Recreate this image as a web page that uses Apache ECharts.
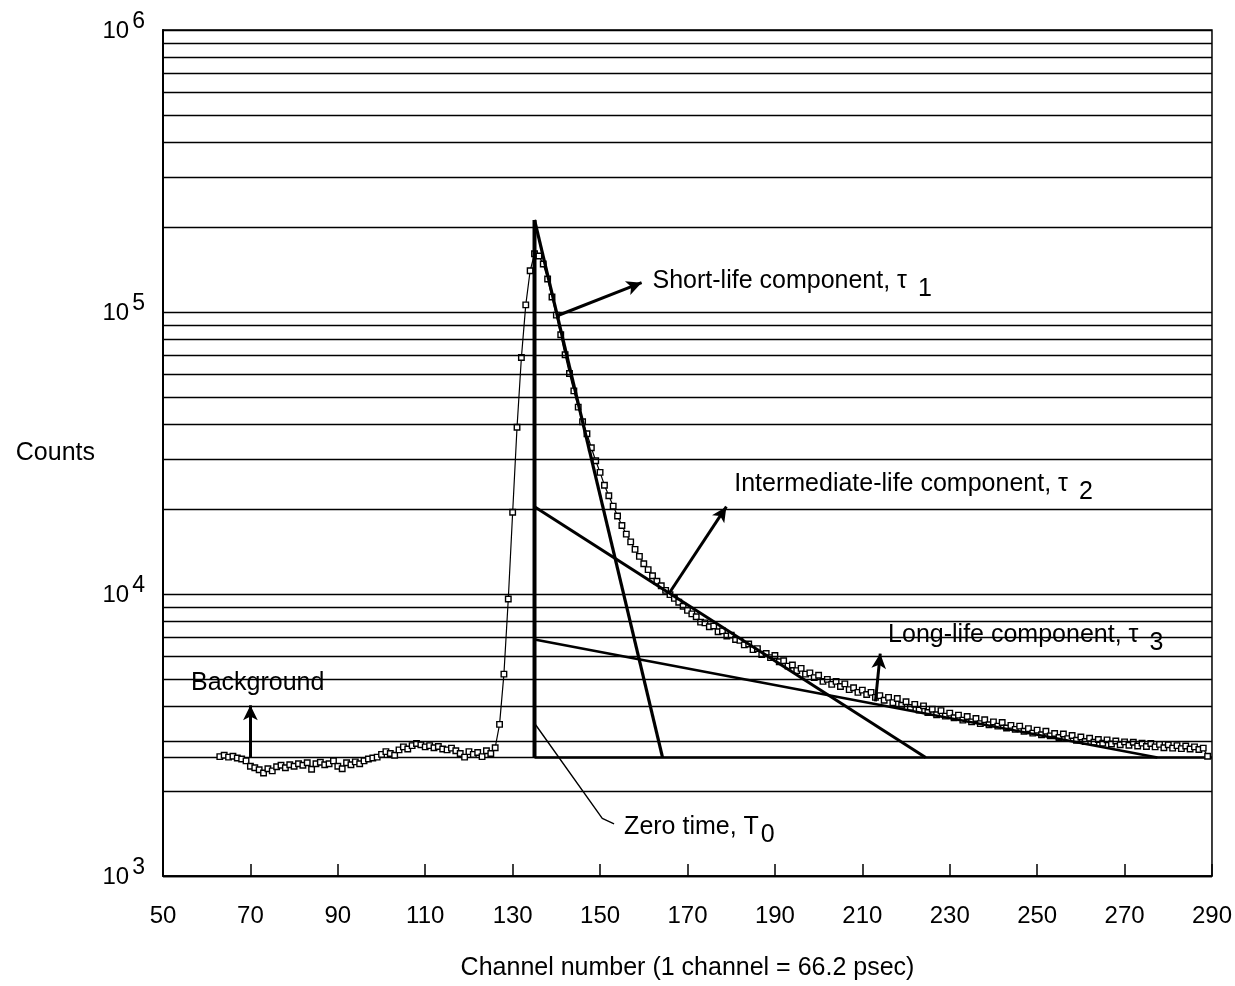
<!DOCTYPE html>
<html><head><meta charset="utf-8">
<script src="https://cdn.jsdelivr.net/npm/echarts@6/dist/echarts.min.js"></script>
<style>html,body{margin:0;padding:0;background:#fff}#c{width:1235px;height:986px}</style>
</head><body><div id="c"></div>
<script>
// ---- data ----
const firstChannel = 63;
const counts = [
 2650,2680,2640,2660,2620,2600,2560,2450,2420,2380,
 2320,2400,2360,2440,2470,2420,2480,2450,2500,2470,
 2520,2390,2500,2530,2480,2500,2560,2450,2400,2520,
 2480,2540,2500,2560,2600,2620,2640,2700,2760,2720,
 2680,2800,2870,2820,2900,2950,2920,2870,2900,2850,
 2880,2820,2800,2840,2780,2720,2640,2760,2700,2740,
 2650,2780,2720,2850,
 3450,5200,9600,19500,39000,69000,106000,140000,161000,158000,
 148000,131000,113000,97500,83000,70500,60500,52500,46000,40800,
 37000,33000,29700,27000,24300,22300,20500,18900,17500,16300,
 15300,14400,13600,12800,12200,11600,11100,10700,10300,9950,
 9650,9350,9050,8750,8500,
 8300,7950,7900,7650,7700,7350,7400,7100,7150,6900,
 6850,6600,6650,6350,6400,6100,6150,5950,6050,5750,
 5800,5550,5600,5350,5450,5200,5250,5050,5150,4900,
 4980,4780,4900,4700,4800,4580,4650,4480,4560,4400,
 4480,4300,4360,4200,4300,4120,4260,4030,4150,3960,
 4060,3880,4010,3800,3900,3730,3860,3690,3780,3640,
 3720,3570,3680,3520,3620,3470,3580,3440,3520,3400,
 3500,3350,3420,3310,3400,3260,3330,3210,3290,3170,
 3260,3140,3200,3100,3190,3070,3150,3030,3110,3000,
 3080,2980,3050,2960,3040,2940,3010,2920,2990,2910,
 2980,2890,2960,2880,2950,2870,2930,2850,2920,2840,
 2900,2830,2890,2820,2870,2810,2840,2660
];
const minorGridValues = [2000,3000,4000,5000,6000,7000,8000,9000,
  20000,30000,40000,50000,60000,70000,80000,90000,
  200000,300000,400000,500000,600000,700000,800000,900000];
const backgroundLevel = 2630;
const zeroTimeLine = [[135, 2630], [135, 212000]];
const shortLife = [[135, 212000], [164.3, 2630]];
const intermediateLife = [[135, 20400], [224.5, 2630]];
const longLife = [[135, 6900], [277.5, 2630]];
const zeroLeader = [[135, 3480], [150.5, 1600], [153.2, 1530]];
const arrows = [
  [[70, 2630], [70, 4030]],
  [[140.2, 97000], [159.5, 127000]],
  [[165.7, 10000], [178.9, 20400]],
  [[213, 4160], [214.1, 6150]]
];
const notes = [
  {text: 'Background', sub: '', at: [56.4, 4820]},
  {text: 'Short-life component, τ', sub: '1', at: [162.0, 129000]},
  {text: 'Intermediate-life component, τ', sub: '2', at: [180.7, 24500]},
  {text: 'Long-life component, τ', sub: '3', at: [215.9, 7120]},
  {text: 'Zero time, T', sub: '0', at: [155.5, 1490]}
];

const FONT = "'Liberation Sans', Arial, Helvetica, sans-serif";
const points = counts.map((v, i) => [firstChannel + i, v]);

const chart = echarts.init(document.getElementById('c'), null, {renderer: 'canvas'});
const blk = '#000';
const option = {
  animation: false,
  backgroundColor: '#fff',
  grid: {left: 163, right: 19, top: 30, bottom: 108, show: true, borderColor: blk, borderWidth: 1.5, backgroundColor: 'transparent'},
  xAxis: {
    type: 'value', min: 50, max: 290, interval: 20,
    name: 'Channel number (1 channel = 66.2 psec)', nameLocation: 'middle', nameGap: 80,
    nameTextStyle: {fontFamily: FONT, fontSize: 25, color: blk},
    axisLine: {show: true, lineStyle: {color: blk, width: 1.5}},
    axisTick: {show: true, inside: true, length: 12, lineStyle: {color: blk, width: 1.5}},
    axisLabel: {margin: 28, fontFamily: FONT, fontSize: 24, color: blk},
    splitLine: {show: false}
  },
  yAxis: {
    type: 'log', logBase: 10, min: 1000, max: 1000000,
    name: 'Counts', nameLocation: 'middle', nameGap: 68, nameRotate: 0,
    nameTextStyle: {fontFamily: FONT, fontSize: 25, color: blk},
    axisLine: {show: true, lineStyle: {color: blk, width: 2}},
    axisTick: {show: false},
    axisLabel: {
      margin: 18, fontFamily: FONT, color: blk,
      formatter: v => '{b|10}{s|' + Math.round(Math.log10(v)) + '}',
      rich: {
        b: {fontFamily: FONT, fontSize: 24, lineHeight: 26, verticalAlign: 'bottom', color: blk},
        s: {fontFamily: FONT, fontSize: 23, lineHeight: 23, padding: [8, 0, 10, 3], verticalAlign: 'bottom', color: blk}
      }
    },
    splitLine: {show: true, lineStyle: {color: blk, width: 1.3}}
  },
  series: [
    {
      name: 'grid', type: 'line', data: [], silent: true,
      markLine: {silent: true, symbol: ['none', 'none'], label: {show: false},
        lineStyle: {color: blk, width: 1.3, type: 'solid'},
        data: minorGridValues.map(v => ({yAxis: v}))}
    },
    {
      name: 'background', type: 'line', data: [[50, backgroundLevel], [290, backgroundLevel]],
      symbol: 'none', lineStyle: {color: blk, width: 1.6}, silent: true, z: 3,
      markLine: {silent: true, symbol: ['none', 'arrow'], symbolSize: [11, 15], label: {show: false},
        lineStyle: {color: blk, width: 3, type: 'solid'},
        data: arrows.map(a => [{coord: a[0]}, {coord: a[1]}])},
      markPoint: {silent: true, symbol: 'circle', symbolSize: 0,
        data: notes.map(n => ({coord: n.at, value: 0, label: {
          show: true, position: 'right', distance: 0,
          formatter: n.sub ? '{t|' + n.text + '}{u|' + n.sub + '}' : '{t|' + n.text + '}',
          rich: {
            t: {fontFamily: FONT, fontSize: 25, color: blk, lineHeight: 27, padding: n.sub ? [8, 0, 8, 0] : 0},
            u: {fontFamily: FONT, fontSize: 25, color: blk, lineHeight: 27, padding: [16, 0, 0, n.sub === '0' ? 2 : 11]}
          }
        }}))}
    },
    {name: 'bgRight', type: 'line', data: [[135, backgroundLevel], [290, backgroundLevel]], symbol: 'none', lineStyle: {color: blk, width: 2.4}, silent: true, z: 3},
    {name: 'counts', type: 'line', data: points, symbol: 'rect', symbolSize: 5.5, showSymbol: true,
      itemStyle: {color: '#fff', borderColor: blk, borderWidth: 1.4},
      lineStyle: {color: blk, width: 1.2}, silent: true, z: 4},
    {name: 'T0', type: 'line', data: zeroTimeLine, symbol: 'none', lineStyle: {color: blk, width: 4}, silent: true, z: 5},
    {name: 'short', type: 'line', data: shortLife, symbol: 'none', lineStyle: {color: blk, width: 3.2}, silent: true, z: 5},
    {name: 'intermediate', type: 'line', data: intermediateLife, symbol: 'none', lineStyle: {color: blk, width: 3}, silent: true, z: 5},
    {name: 'long', type: 'line', data: longLife, symbol: 'none', lineStyle: {color: blk, width: 2.6}, silent: true, z: 5},
    {name: 'leader', type: 'line', data: zeroLeader, symbol: 'none', lineStyle: {color: blk, width: 1.4}, silent: true, z: 5}
  ]
};
chart.setOption(option);
</script></body></html>
